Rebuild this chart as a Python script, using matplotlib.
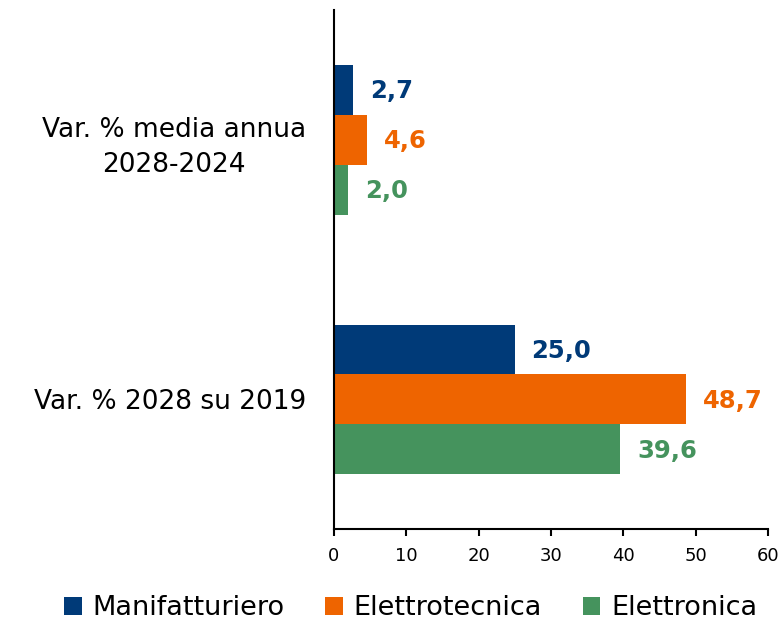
import numpy as np
import matplotlib.pyplot as plt

# data
categories = ["Var. % media annua\n2028-2024", "Var. % 2028 su 2019"]
series_names = ["Manifatturiero", "Elettrotecnica", "Elettronica"]
manifatturiero = [2.7, 25.0]
elettrotecnica = [4.6, 48.7]
elettronica = [2.0, 39.6]
colors = ["#003A78", "#EE6400", "#45935D"]

plt.rcParams['font.family'] = ['DejaVu Sans']

fig = plt.figure(figsize=(7.82, 6.24), dpi=100)
ax = fig.add_axes([0.427, 0.152, 0.555, 0.832])

y = np.arange(len(categories))
h = 0.192
values = [manifatturiero, elettrotecnica, elettronica]
for i, (vals, name, c) in enumerate(zip(values, series_names, colors)):
    pos = y + (i - 1) * h
    ax.barh(pos, vals, height=h, color=c, label=name)
    for p, v in zip(pos, vals):
        ax.annotate(f"{v:.1f}".replace(".", ","), xy=(v, p), xytext=(12, -1),
                    textcoords="offset points", va="center", ha="left",
                    color=c, fontsize=17.5, fontweight="bold")

ax.set_ylim(1.5, -0.5)
ax.set_xlim(0, 60)
ax.set_xticks(np.arange(0, 61, 10))
ax.set_yticks(y)
ax.set_yticklabels(categories, fontsize=19, linespacing=1.45, multialignment="center")
ax.tick_params(axis="y", length=0, pad=20)
ax.tick_params(axis="x", labelsize=13, length=5, width=1.5, pad=8)
for s in ["top", "right"]:
    ax.spines[s].set_visible(False)
ax.spines["left"].set_linewidth(1.5)
ax.spines["bottom"].set_linewidth(1.5)

fig.legend(loc="lower center", bbox_to_anchor=(0.525, -0.035), ncol=3, frameon=False,
           fontsize=19.5, handlelength=0.65, handleheight=0.65, handletextpad=0.4,
           columnspacing=1.5)

fig.savefig("out.png", dpi=100)
